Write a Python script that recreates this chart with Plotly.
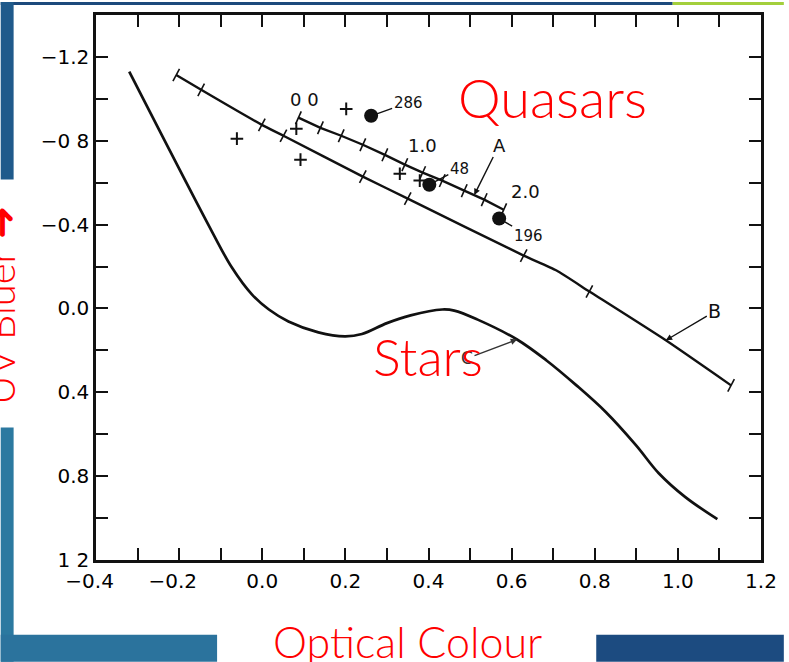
import plotly.graph_objects as go

# ---- data: two-colour diagram (U-B against B-V) ----
# main-sequence star locus, curve C
star_bv = [-0.32, -0.121, -0.073, -0.025, 0.016, 0.063, 0.135, 0.199, 0.240, 0.300, 0.357,
           0.433, 0.462, 0.517, 0.613, 0.684, 0.756, 0.827, 0.899, 0.954, 1.018, 1.095]
star_ub = [-1.13, -0.367, -0.195, -0.067, 0.005, 0.062, 0.114, 0.133, 0.122, 0.070, 0.033,
           0.005, 0.010, 0.052, 0.148, 0.248, 0.367, 0.495, 0.652, 0.786, 0.900, 1.005]

# track B
trackB_bv = [-0.207, -0.147, -0.001, 0.051, 0.242, 0.350, 0.629, 0.708, 0.787, 0.971, 1.128]
trackB_ub = [-1.114, -1.043, -0.876, -0.824, -0.629, -0.524, -0.252, -0.181, -0.081, 0.152, 0.367]
trackB_tick_bv = [-0.207, -0.147, -0.001, 0.051, 0.242, 0.350, 0.629, 0.787, 1.128]
trackB_tick_ub = [-1.114, -1.043, -0.876, -0.824, -0.629, -0.524, -0.252, -0.081, 0.367]

# redshift track A (z = 0.0 ... 2.0 in steps of 0.2)
trackA_z = [0.0, 0.2, 0.4, 0.6, 0.8, 1.0, 1.2, 1.4, 1.6, 1.8, 2.0]
trackA_bv = [0.087, 0.140, 0.190, 0.242, 0.295, 0.343, 0.386, 0.433, 0.486, 0.534, 0.581]
trackA_ub = [-0.910, -0.862, -0.824, -0.781, -0.733, -0.686, -0.648, -0.610, -0.562, -0.519, -0.471]
trackA_labels = {0.0: "0 0", 1.0: "1.0", 2.0: "2.0"}

# named quasars (filled dots)
qso_names = ["286", "48", "196"]
qso_bv = [0.262, 0.402, 0.570]
qso_ub = [-0.919, -0.590, -0.429]

# other objects (crosses)
other_bv = [-0.061, 0.082, 0.092, 0.202, 0.331, 0.379]
other_ub = [-0.810, -0.857, -0.710, -0.952, -0.643, -0.610]

# axis ticks (negative labels padded so the digits sit under the tick)
PAD = "\u2007"
x_ticks = [-0.4, -0.2, 0.0, 0.2, 0.4, 0.6, 0.8, 1.0, 1.2]
x_ticktext = ["\u22120.4" + PAD, "\u22120.2" + PAD, "0.0", "0.2", "0.4", "0.6", "0.8", "1.0", "1.2"]
x_minor = [-0.3, -0.1, 0.1, 0.3, 0.5, 0.7, 0.9, 1.1]
y_ticks = [-1.2, -0.8, -0.4, 0.0, 0.4, 0.8, 1.2]
y_ticktext = ["\u22121.2", "\u22120 8", "\u22120.4", "0.0", "0.4", "0.8", "1 2"]
y_minor = [-1.0, -0.6, -0.2, 0.2, 0.6, 1.0]

# ---- page geometry ----
W, H = 789, 662
ML, MR, MT, MB = 96, 23, 13, 102
PW, PH = W - ML - MR, H - MT - MB


def px(xp):
    return (xp - ML) / PW


def py(yp):
    return (H - MB - yp) / PH


INK = "#111111"
RED = "#ff0000"

fig = go.Figure()

fig.add_trace(go.Scatter(x=star_bv, y=star_ub, mode="lines",
                         line=dict(color=INK, width=2.7, shape="spline", smoothing=1.0),
                         hoverinfo="skip"))
fig.add_trace(go.Scatter(x=trackB_bv, y=trackB_ub, mode="lines",
                         line=dict(color=INK, width=2.4, shape="spline", smoothing=0.5),
                         hoverinfo="skip"))
fig.add_trace(go.Scatter(x=trackB_tick_bv, y=trackB_tick_ub, mode="markers",
                         marker=dict(symbol="line-ns", size=10, angle=28,
                                     line=dict(color=INK, width=1.6)),
                         hoverinfo="skip"))
fig.add_trace(go.Scatter(x=trackA_bv, y=trackA_ub, mode="lines",
                         line=dict(color=INK, width=2.4), hoverinfo="skip"))
fig.add_trace(go.Scatter(x=trackA_bv, y=trackA_ub, mode="markers",
                         marker=dict(symbol="line-ns", size=10, angle=24,
                                     line=dict(color=INK, width=1.6)),
                         hoverinfo="skip"))
fig.add_trace(go.Scatter(x=other_bv, y=other_ub, mode="markers",
                         marker=dict(symbol="cross-thin", size=9,
                                     line=dict(color=INK, width=2)),
                         hoverinfo="skip"))
fig.add_trace(go.Scatter(x=qso_bv, y=qso_ub, mode="markers",
                         marker=dict(symbol="circle", size=14, color=INK),
                         hoverinfo="skip"))

ann = []
lab_font = dict(family="DejaVu Sans", size=15, color=INK)

# redshift labels along track A
label_shift = {0.0: (6, 18), 1.0: (18, 19), 2.0: (22, 18)}
for z, bv, ub in zip(trackA_z, trackA_bv, trackA_ub):
    if z in trackA_labels:
        sx, sy = label_shift[z]
        ann.append(dict(x=bv, y=ub, text=trackA_labels[z], showarrow=False,
                        xshift=sx, yshift=sy,
                        font=dict(family="DejaVu Sans", size=18, color=INK)))

# quasar names with leaders
offsets = {"286": (37, -13), "48": (30, -16), "196": (29, 17)}
for name, bv, ub in zip(qso_names, qso_bv, qso_ub):
    ax, ay = offsets[name]
    ann.append(dict(x=bv, y=ub, text=name, showarrow=True, arrowhead=0,
                    arrowwidth=1.4, arrowcolor=INK, ax=ax, ay=ay, standoff=6,
                    font=lab_font))

# track / locus pointers
ann.append(dict(x=trackA_bv[8] + 0.024, y=trackA_ub[8] + 0.021, text="A",
                showarrow=True, arrowhead=2, arrowsize=0.9, arrowwidth=1.4,
                arrowcolor=INK, ax=25, ay=-50,
                font=dict(family="DejaVu Sans", size=18, color=INK)))
ann.append(dict(x=trackB_bv[9], y=trackB_ub[9], text="B",
                showarrow=True, arrowhead=2, arrowsize=0.9, arrowwidth=1.4,
                arrowcolor=INK, ax=49, ay=-29,
                font=dict(family="DejaVu Sans", size=19, color=INK)))
ann.append(dict(x=star_bv[14], y=star_ub[14], text="C",
                showarrow=True, arrowhead=2, arrowsize=0.9, arrowwidth=1.4,
                arrowcolor="#333333", ax=-50, ay=19,
                font=dict(family="DejaVu Sans", size=17, color="#333333")))

# slide captions
def caption(x, y, text, size, angle=0):
    ann.append(dict(xref="paper", yref="paper", x=px(x), y=py(y), text=text,
                    xanchor="center", yanchor="middle", textangle=angle,
                    showarrow=False,
                    font=dict(family="Lato", size=size, color=RED, weight=300)))

caption(556, 96, "Quasars", 54)
caption(430, 355, "Stars", 52)
caption(410, 642, "Optical Colour", 43)
caption(-1, 304, "UV Bluer \u279c", 40, angle=-90)

# slide frame blocks
shapes = []
def block(x0, y0, x1, y1, color):
    shapes.append(dict(type="rect", xref="paper", yref="paper",
                       x0=px(x0), x1=px(x1), y0=py(y1), y1=py(y0),
                       fillcolor=color, line=dict(width=0), layer="below"))

block(0, 0, 677, 3, "#1d4a7c")
block(677, 0, W, 3, "#a3cf3c")
block(0, 0, 13, 178, "#1f5a8b")
block(0, 427, 13, H, "#2c79a0")
block(0, 635, 218, H, "#2b739d")
block(600, 635, W, H, "#1c4b80")

tick_font = dict(family="DejaVu Sans", size=20, color="#000000")
fig.update_layout(
    width=W, height=H,
    margin=dict(l=ML, r=MR, t=MT, b=MB, pad=0),
    paper_bgcolor="white", plot_bgcolor="white",
    showlegend=False,
    annotations=ann, shapes=shapes,
    xaxis=dict(range=[-0.4, 1.2], tickmode="array", tickvals=x_ticks, ticktext=x_ticktext,
               ticks="inside", ticklen=12, tickwidth=2, tickcolor=INK,
               minor=dict(tickmode="array", tickvals=x_minor, ticks="inside",
                          ticklen=12, tickwidth=2, tickcolor=INK, showgrid=False),
               showline=True, linecolor=INK, linewidth=2.5, mirror="ticks",
               showgrid=False, zeroline=False, tickfont=tick_font, ticklabelstandoff=1),
    yaxis=dict(range=[1.2, -1.4], tickmode="array", tickvals=y_ticks, ticktext=y_ticktext,
               ticks="inside", ticklen=12, tickwidth=2, tickcolor=INK,
               minor=dict(tickmode="array", tickvals=y_minor, ticks="inside",
                          ticklen=12, tickwidth=2, tickcolor=INK, showgrid=False),
               showline=True, linecolor=INK, linewidth=2.5, mirror="ticks",
               showgrid=False, zeroline=False, tickfont=tick_font, ticklabelstandoff=0),
)

fig.write_html("out.html")
